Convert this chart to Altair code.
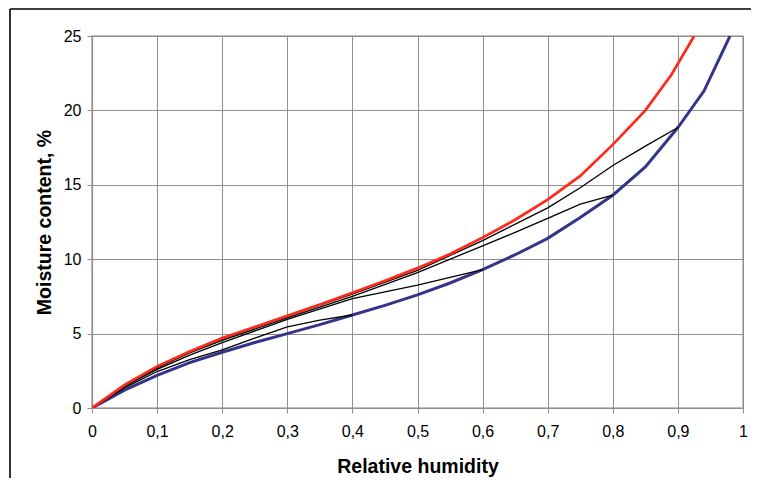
import altair as alt
import pandas as pd

# ---- data ----
red_rh = [0, 0.05, 0.1, 0.15, 0.2, 0.25, 0.3, 0.35, 0.4, 0.45, 0.5, 0.55, 0.6, 0.65, 0.7, 0.75, 0.8, 0.85, 0.89, 0.925]
red_mc = [0, 1.55, 2.8, 3.8, 4.7, 5.45, 6.2, 6.95, 7.75, 8.55, 9.4, 10.35, 11.45, 12.65, 14.0, 15.6, 17.7, 20.0, 22.4, 25.0]

blue_rh = [0, 0.05, 0.1, 0.15, 0.2, 0.25, 0.3, 0.35, 0.4, 0.45, 0.5, 0.55, 0.6, 0.65, 0.7, 0.75, 0.8, 0.85, 0.9, 0.94, 0.98]
blue_mc = [0, 1.2, 2.2, 3.05, 3.75, 4.4, 5.0, 5.6, 6.25, 6.9, 7.6, 8.4, 9.3, 10.3, 11.4, 12.8, 14.3, 16.2, 18.85, 21.3, 25.0]

scanA_rh = [0, 0.05, 0.1, 0.15, 0.2, 0.3, 0.4, 0.5, 0.6, 0.7, 0.75, 0.8, 0.85, 0.9]
scanA_mc = [0, 1.55, 2.75, 3.75, 4.65, 6.15, 7.65, 9.25, 11.25, 13.45, 14.8, 16.3, 17.6, 18.85]

scanB_rh = [0, 0.05, 0.1, 0.15, 0.2, 0.3, 0.4, 0.5, 0.6, 0.65, 0.7, 0.75, 0.8]
scanB_mc = [0, 1.5, 2.7, 3.7, 4.55, 6.05, 7.5, 9.1, 10.9, 11.8, 12.75, 13.7, 14.3]

scanC_rh = [0, 0.05, 0.1, 0.15, 0.2, 0.3, 0.4, 0.5, 0.6]
scanC_mc = [0, 1.45, 2.6, 3.55, 4.4, 5.95, 7.35, 8.25, 9.3]

scanD_rh = [0, 0.05, 0.1, 0.15, 0.2, 0.25, 0.3, 0.35, 0.4]
scanD_mc = [0, 1.35, 2.45, 3.25, 3.9, 4.7, 5.45, 5.9, 6.25]

x_ticks = [0, 0.1, 0.2, 0.3, 0.4, 0.5, 0.6, 0.7, 0.8, 0.9, 1.0]
y_ticks = [0, 5, 10, 15, 20, 25]

series = [
    ("scan 0.4", scanD_rh, scanD_mc),
    ("scan 0.6", scanC_rh, scanC_mc),
    ("scan 0.8", scanB_rh, scanB_mc),
    ("scan 0.9", scanA_rh, scanA_mc),
    ("adsorption", blue_rh, blue_mc),
    ("desorption", red_rh, red_mc),
]
rows = []
for name, xs, ys in series:
    for i, (xv, yv) in enumerate(zip(xs, ys)):
        rows.append({"series": name, "rh": xv, "mc": yv, "i": i})
df = pd.DataFrame(rows)

W, H = 651, 372
PL, PT, PR, PB = 84, 28, 8, 70
FONT = "Liberation Sans"

x_enc = alt.X("rh:Q", scale=alt.Scale(domain=[0, 1], nice=False, zero=False),
              axis=alt.Axis(values=x_ticks, title="Relative humidity",
                            labelExpr="replace(format(datum.value, '.1~f'), '.', ',')",
                            labelFlush=False,
                            titleX=W / 2, titleY=64, titleBaseline="alphabetic",
                            labelPadding=10))
y_enc = alt.Y("mc:Q", scale=alt.Scale(domain=[0, 25], nice=False),
              axis=alt.Axis(values=y_ticks, title="Moisture content, %",
                            labelFlush=False,
                            titleX=-42, titleY=H / 2, titleBaseline="alphabetic",
                            titleAngle=-90, titleAlign="center", labelPadding=6))

base = alt.Chart(df).encode(x=x_enc, y=y_enc, detail="series:N", order="i:Q")

black = base.transform_filter(
    alt.FieldOneOfPredicate(field="series", oneOf=["scan 0.4", "scan 0.6", "scan 0.8", "scan 0.9"])
).mark_line(clip=True, color="#000000", strokeWidth=1.3)
blue = base.transform_filter(alt.datum.series == "adsorption").mark_line(
    clip=True, color="#343489", strokeWidth=3.0)
red = base.transform_filter(alt.datum.series == "desorption").mark_line(
    clip=True, color="#ff2a1a", strokeWidth=2.7)

frame_df = pd.DataFrame({"k": [0]})
top_line = alt.Chart(frame_df).mark_rule(color="#000000", strokeWidth=1.6).encode(
    x=alt.value(10 - (8 + PL)), x2=alt.value(W + PR + 10),
    y=alt.value(9 - (8 + PT)),
)
left_line = alt.Chart(frame_df).mark_rule(color="#000000", strokeWidth=1.6).encode(
    x=alt.value(10 - (8 + PL)),
    y=alt.value(9 - (8 + PT)), y2=alt.value(H + PB + 10),
)

chart = alt.layer(blue, black, red, top_line, left_line).properties(
    width=W, height=H,
    autosize=alt.AutoSizeParams(type="none"),
    padding={"left": PL, "top": PT, "right": PR, "bottom": PB},
    background="white",
).configure_view(
    stroke="#a8a8a8", strokeWidth=1.5,
).configure_axis(
    grid=True, gridColor="#8f8f8f", gridWidth=1,
    domainColor="#8f8f8f", domainWidth=1.2,
    tickColor="#8f8f8f", tickSize=5,
    labelFont=FONT, labelFontSize=16, labelColor="#000000",
    titleFont=FONT, titleFontSize=19.5, titleFontWeight="bold", titleColor="#000000",
)

chart.save("out.html", embed_options={"renderer": "svg", "actions": False})
